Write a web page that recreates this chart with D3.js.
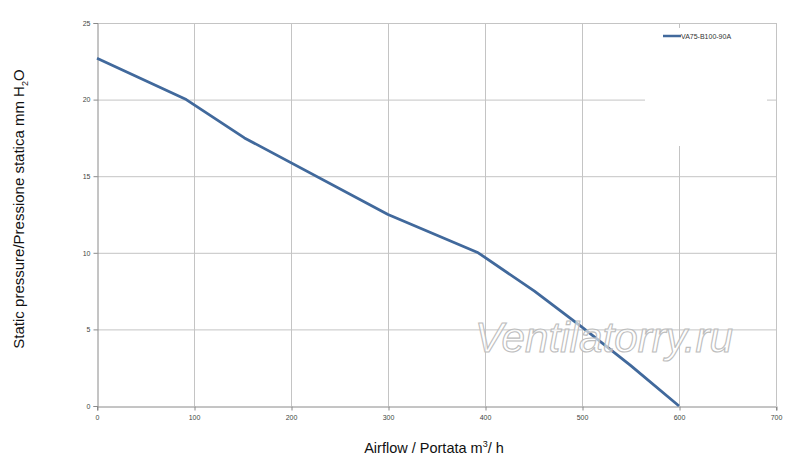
<!DOCTYPE html>
<html><head><meta charset="utf-8">
<script src="https://cdn.jsdelivr.net/npm/d3@7"></script>
<style>body{margin:0;background:#fff}svg{display:block}</style>
</head><body>
<svg id="c" width="800" height="474"></svg>
<script>
const seriesName = "VA75-B100-90A";
const airflow = [0, 92, 152, 300, 393, 451, 500, 550, 600];
const pressure = [22.7, 20.0, 17.5, 12.5, 10.0, 7.5, 5.15, 2.65, 0];
const xTicks = [0, 100, 200, 300, 400, 500, 600, 700];
const yTicks = [0, 5, 10, 15, 20, 25];

const svg = d3.select("#c");
const L = 97, R = 776, T = 23, B = 406;
const x = d3.scaleLinear().domain([0, 700]).range([L, R]);
const y = d3.scaleLinear().domain([0, 25]).range([B, T]);
const grid = "#c4c4c4";

// gridlines
svg.append("g").selectAll("line").data(xTicks.slice(1)).join("line")
  .attr("x1", d => x(d) + 0.5).attr("x2", d => x(d) + 0.5)
  .attr("y1", T).attr("y2", B).attr("stroke", grid).attr("stroke-width", 1);
svg.append("g").selectAll("line").data(yTicks.slice(1)).join("line")
  .attr("x1", L).attr("x2", R).attr("y1", d => y(d) + 0.5).attr("y2", d => y(d) + 0.5)
  .attr("stroke", grid).attr("stroke-width", 1);

// legend white box (hides gridlines as in reference)
svg.append("rect").attr("x", 645).attr("y", 28).attr("width", 122).attr("height", 118).attr("fill", "#fff");

// axes
const xAxis = d3.axisBottom(x).tickValues(xTicks).tickSize(4).tickFormat(d3.format("d"));
const gx = svg.append("g").attr("transform", `translate(0,${B + 0.5})`).call(xAxis);
gx.select(".domain").attr("stroke", "#8a8a8a");
gx.selectAll(".tick line").attr("stroke", "#8a8a8a").attr("transform", "translate(0.5,0)");
gx.selectAll("text").attr("font-family", "Liberation Sans, Arial, sans-serif").attr("font-size", 7).attr("fill", "#444").attr("dy", "0.9em");

const yAxis = d3.axisLeft(y).tickValues(yTicks).tickSize(4).tickFormat(d3.format("d"));
const gy = svg.append("g").attr("transform", `translate(${L + 0.5},0)`).call(yAxis);
gy.select(".domain").attr("stroke", "#8a8a8a");
gy.selectAll(".tick line").attr("stroke", "#8a8a8a");
gy.selectAll("text").attr("font-family", "Liberation Sans, Arial, sans-serif").attr("font-size", 7).attr("fill", "#444").attr("x", -7);

// line
const line = d3.line().x((d, i) => x(airflow[i])).y(d => y(d));
svg.append("path").datum(pressure).attr("d", line)
  .attr("fill", "none").attr("stroke", "#41699c").attr("stroke-width", 2.8).attr("stroke-linejoin", "round");

// legend
svg.append("line").attr("x1", 663).attr("x2", 681).attr("y1", 36).attr("y2", 36)
  .attr("stroke", "#41699c").attr("stroke-width", 2.5);
svg.append("text").attr("x", 681).attr("y", 38.5).text(seriesName)
  .attr("font-family", "Liberation Sans, Arial, sans-serif").attr("font-size", 7).attr("fill", "#333");

// watermark
svg.append("text").attr("x", 604).attr("y", 352).attr("text-anchor", "middle")
  .attr("font-family", "Liberation Sans, Arial, sans-serif").attr("font-style", "italic")
  .attr("font-size", 42).attr("textLength", 258).attr("lengthAdjust", "spacingAndGlyphs")
  .attr("fill", "#fff").attr("fill-opacity", 0.6)
  .attr("stroke", "#bdbdbd").attr("stroke-width", 1.1).text("Ventilatorry.ru");

// axis titles
const xt = svg.append("text").attr("x", 434).attr("y", 453).attr("text-anchor", "middle")
  .attr("font-family", "Liberation Sans, Arial, sans-serif").attr("font-size", 14.5).attr("fill", "#111");
xt.append("tspan").text("Airflow / Portata  m");
xt.append("tspan").attr("font-size", 9).attr("dy", -6).text("3");
xt.append("tspan").attr("dy", 6).text("/ h");

const yt = svg.append("text").attr("transform", "translate(24,209) rotate(-90)").attr("text-anchor", "middle")
  .attr("font-family", "Liberation Sans, Arial, sans-serif").attr("font-size", 15).attr("fill", "#111");
yt.append("tspan").text("Static pressure/Pressione statica mm  H");
yt.append("tspan").attr("font-size", 9).attr("dy", 4).text("2");
yt.append("tspan").attr("dy", -4).text("O");
</script>
</body></html>
